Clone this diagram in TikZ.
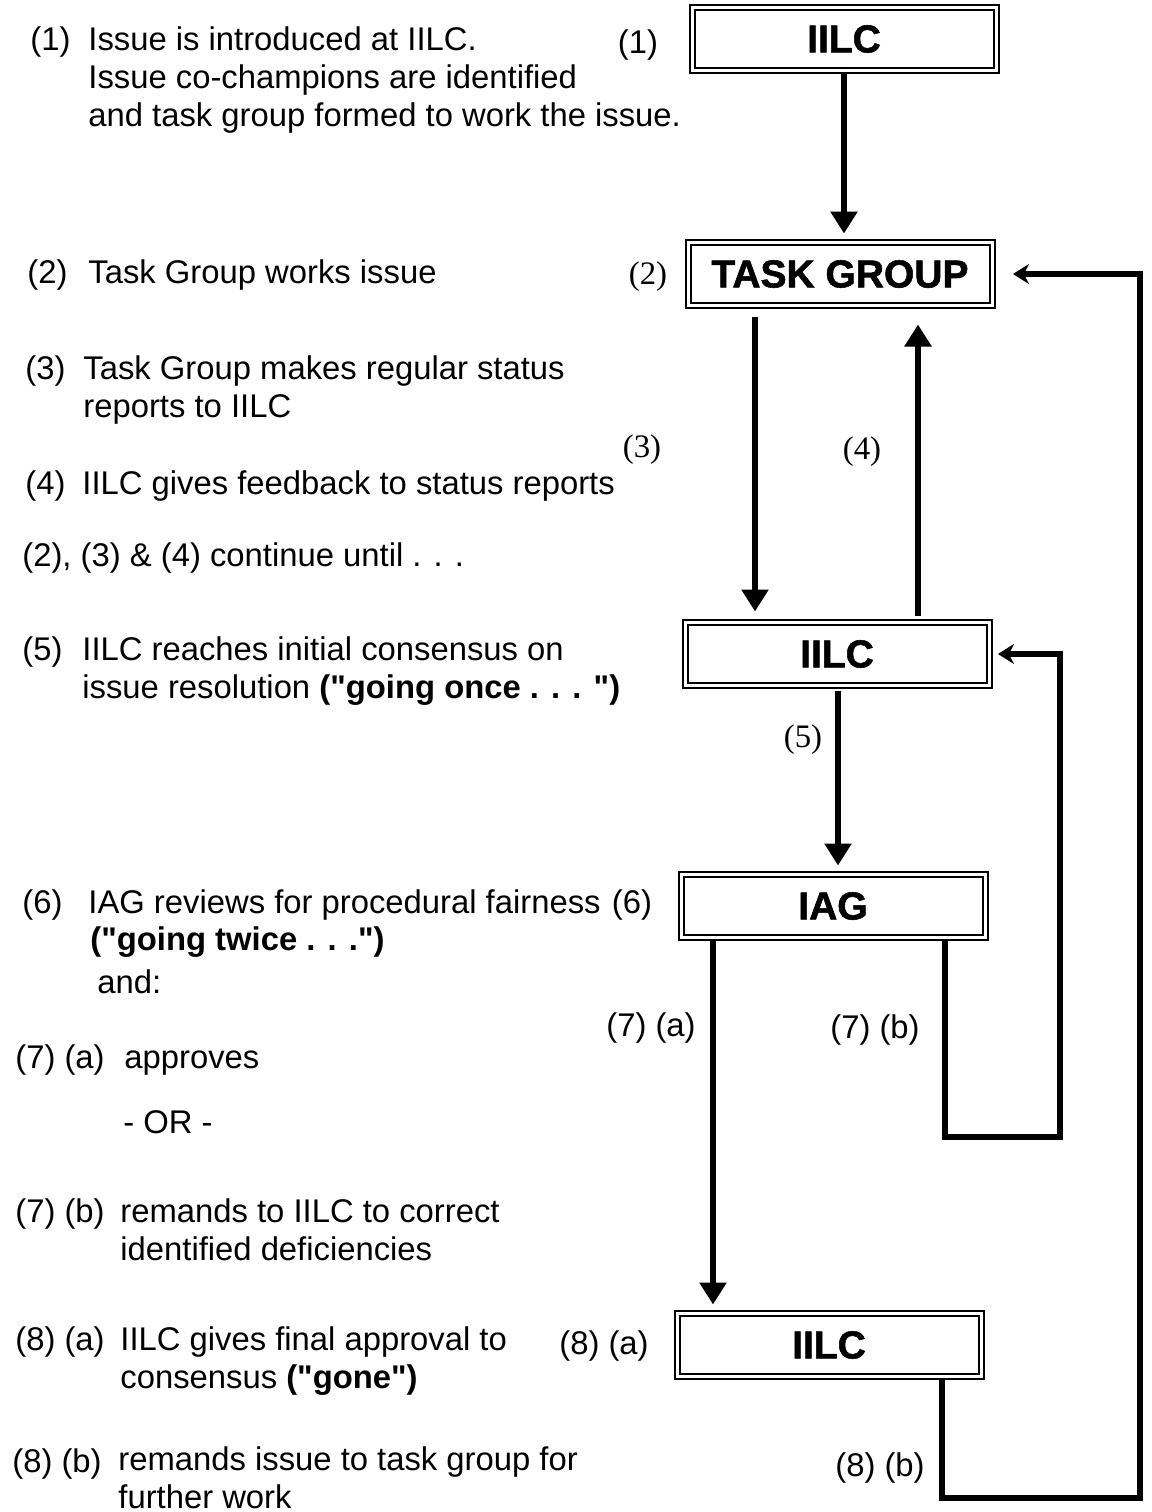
\documentclass[tikz,border=0pt]{standalone}
\usepackage{fontspec}
\setmainfont{Liberation Sans}[Ligatures=TeXOff]
\newfontfamily\serifnum{Liberation Serif}
\newfontfamily\heavy[FakeBold=1.4]{Liberation Sans Bold}
\usetikzlibrary{arrows.meta,positioning}

\begin{document}
\begin{tikzpicture}[
    x=0.5pt, y=-0.5pt,
    stage/.style={draw,line width=1pt,double,double distance=1.5pt,minimum width=152pt,minimum height=31.5pt,inner sep=0pt,font=\heavy\fontsize{19.5}{20}\selectfont},
    note/.style={anchor=base west,align=left,inner sep=0pt,font=\fontsize{16.4}{19}\selectfont},
    tag/.style={inner sep=0pt,font=\fontsize{16.4}{19}\selectfont},
    stag/.style={inner sep=0pt,font=\serifnum\fontsize{16.4}{19}\selectfont},
    flow/.style={line width=2.8pt,-{Triangle[length=11pt,width=13pt]}},
    back/.style={line width=2.8pt,-{Stealth[length=8pt,width=10pt]}}
]
\useasboundingbox (0,0) rectangle (1152,1512);

% boxes on the right
\node[stage] (iilc1) at (844,39) {IILC};
\node[stage] (task) at (840,274) {TASK GROUP};
\node[stage] (iilc2) at (837,654) {IILC};
\node[stage] (iag) at (833,906) {IAG};
\node[stage] (iilc3) at (829,1345) {IILC};

% step marks beside the boxes and arrows
\node[tag] (n1) at (638,45) {(1)};
\node[stag] (n2) at (648,277) {(2)};
\node[stag] (n3) at (642,450) {(3)};
\node[stag] (n4) at (862,452) {(4)};
\node[stag] (n5) at (803,740) {(5)};
\node[tag] (n6) at (632,905) {(6)};
\node[tag] (n7a) at (651,1028) {(7) (a)};
\node[tag] (n7b) at (875,1030) {(7) (b)};
\node[tag] (n8a) at (604,1346) {(8) (a)};
\node[tag] (n8b) at (880,1468) {(8) (b)};

% text column on the left (multi-line notes sit on their last baseline)
\node[note] (k1) at (30,50) {(1)};
\node[note] (s1) at (88,126) {Issue is introduced at IILC.\\Issue co-champions are identified\\and task group formed to work the issue.};
\node[note] (k2) at (27,283) {(2)};
\node[note] (s2) at (88,283) {Task Group works issue};
\node[note] (k3) at (25,379) {(3)};
\node[note] (s3) at (83,417) {Task Group makes regular status\\reports to IILC};
\node[note] (k4) at (25,494) {(4)};
\node[note] (s4) at (82,494) {IILC gives feedback to status reports};
\node[note] (loop) at (22,566) {(2), (3) \& (4) continue until . . .};
\node[note] (k5) at (22,660) {(5)};
\node[note] (s5) at (82,698) {IILC reaches initial consensus on\\issue resolution \textbf{("going once . . . ")}};
\node[note] (k6) at (22,913) {(6)};
\node[note] (s6) at (88,913) {IAG reviews for procedural fairness};
\node[note] (s6b) at (90,950) {\textbf{("going twice . . .")}};
\node[note] (s6c) at (97,993) {and:};
\node[note] (k7a) at (15,1068) {(7) (a)};
\node[note] (s7a) at (124,1068) {approves};
\node[note] (orr) at (123,1133) {- OR -};
\node[note] (k7b) at (15,1222) {(7) (b)};
\node[note] (s7b) at (120,1260) {remands to IILC to correct\\identified deficiencies};
\node[note] (k8a) at (15,1350) {(8) (a)};
\node[note] (s8a) at (120,1388) {IILC gives final approval to\\consensus \textbf{("gone")}};
\node[note] (k8b) at (12,1472) {(8) (b)};
\node[note] (s8b) at (118,1508) {remands issue to task group for\\further work};

% connectors
\coordinate (remA) at (1060,1137);
\coordinate (remB) at (1140,1498);
\draw[flow,shorten >=4pt] (iilc1.south) -- (task.north -| iilc1.south);
\draw[flow,shorten <=5pt,shorten >=5pt] (task.south -| 755,0) -- (iilc2.north -| 755,0);
\draw[flow,shorten <=3pt,shorten >=9pt] (iilc2.north -| 918,0) -- (task.south -| 918,0);
\draw[flow,shorten <=2pt,shorten >=4pt] (iilc2.south -| 838,0) -- (iag.north -| 838,0);
\draw[flow,shorten >=4pt] (iag.south -| 713,0) -- (iilc3.north -| 713,0);
\draw[back,shorten >=4pt] (iag.south -| 945,0) |- (remA) |- (iilc2.east);
\draw[back,shorten >=10pt] (iilc3.south -| 942,0) |- (remB) |- (task.east);
\end{tikzpicture}
\end{document}
